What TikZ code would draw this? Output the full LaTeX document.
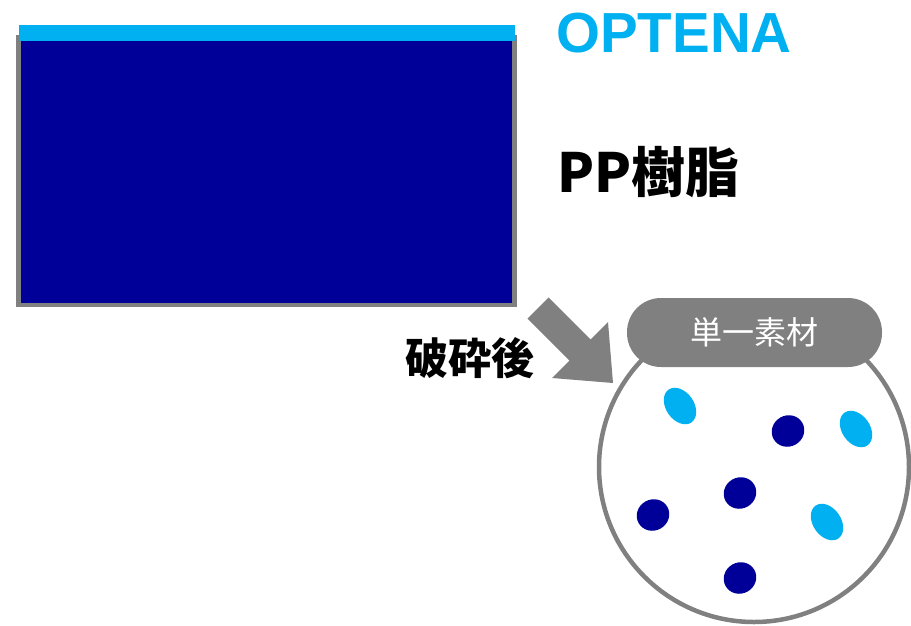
\documentclass[tikz,border=0pt]{standalone}
\usepackage{fontspec}
\setmainfont{Liberation Sans}
\newfontfamily\cjk{Noto Sans CJK JP}
\usetikzlibrary{shapes.geometric}
\definecolor{optenablue}{HTML}{00B0F0}
\definecolor{resinblue}{HTML}{000099}
\definecolor{framegray}{HTML}{808080}

\begin{document}
\begin{tikzpicture}[x=1pt,y=-1pt,
darkbit/.style={ellipse,fill=resinblue,inner sep=0,minimum width=33pt,minimum height=31pt,rotate=30},
lightbit/.style={ellipse,fill=optenablue,inner sep=0,minimum width=40pt,minimum height=28pt,rotate=-55},
jptext/.style={inner sep=0,font=\cjk\bfseries}
]
\useasboundingbox (0,0) rectangle (911,625);
% sheet of resin with the film on top
\draw[framegray,line width=4.5pt,fill=resinblue] (18.5,37) rectangle (514.5,305);
\fill[optenablue] (19,25) rectangle (515,41);
\node[inner sep=0,anchor=base west,text=optenablue,font=\bfseries\fontsize{56.5}{56.5}\selectfont] (film) at (556,52) {OPTENA};
\node[jptext,anchor=base west,font=\cjk\bfseries\fontsize{54}{54}\selectfont] (resin) at (557,192) {PP樹脂};
% crushing
\fill[framegray] (527.4,318.6) -- (548.6,297.4) -- (590.6,339.4) -- (608,322)
  -- (613,383) -- (552,378) -- (569.4,360.6) -- cycle;
\node[jptext,font=\cjk\bfseries\fontsize{43}{43}\selectfont] (crush) at (469.5,358) {破砕後};
% after crushing
\node[draw=framegray,line width=4.5pt,circle,minimum size=310pt,inner sep=0] (bag) at (754,467) {};
\node[fill=framegray,rounded corners=34pt,minimum width=255pt,minimum height=69pt,
  text=white,font=\cjk\fontsize{32}{32}\selectfont] (mono) at (754.5,332.5) {単一素材};
\node[lightbit] (b1) at (680,406) {};
\node[lightbit] (b2) at (856,429) {};
\node[lightbit] (b3) at (827,522) {};
\node[darkbit] (b4) at (788,431) {};
\node[darkbit] (b5) at (740,493) {};
\node[darkbit] (b6) at (653,515) {};
\node[darkbit] (b7) at (740,578) {};
\end{tikzpicture}
\end{document}
